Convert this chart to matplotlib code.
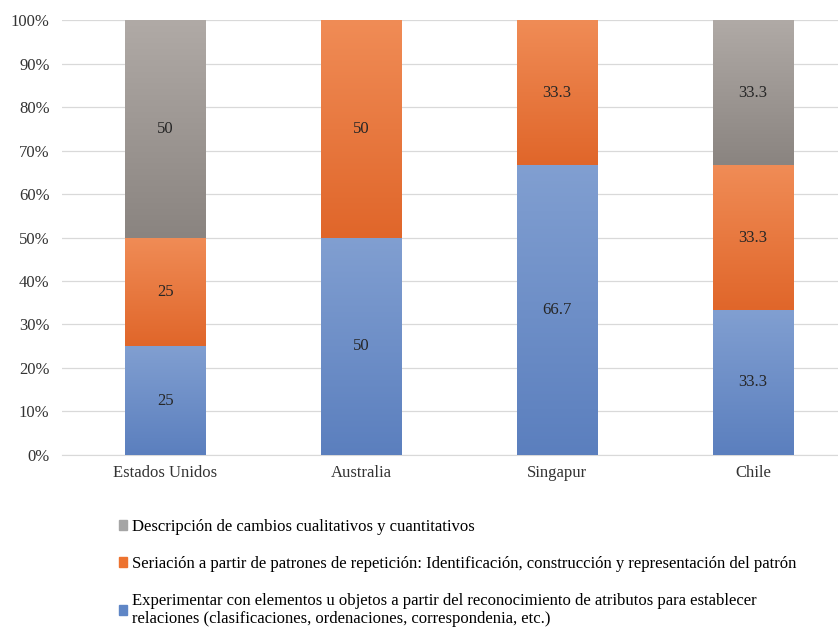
import numpy as np
import matplotlib.pyplot as plt
from matplotlib.colors import LinearSegmentedColormap
from matplotlib.patches import Patch

plt.rcParams['font.family'] = ['Liberation Serif', 'DejaVu Serif']

paises = ['Estados Unidos', 'Australia', 'Singapur', 'Chile']
experimentar = [25, 50, 66.7, 33.3]
seriacion = [25, 50, 33.3, 33.3]
descripcion = [50, 0, 0, 33.3]

etiquetas = [
    'Experimentar con elementos u objetos a partir del reconocimiento de atributos para establecer\n'
    'relaciones (clasificaciones, ordenaciones, correspondenia, etc.)',
    'Seriación a partir de patrones de repetición: Identificación, construcción y representación del patrón',
    'Descripción de cambios cualitativos y cuantitativos',
]

# (color arriba, color abajo) de cada serie
degradados = [('#819fd1', '#5b7fbe'), ('#f08c56', '#e0662a'), ('#b0aaa6', '#8a8480')]
colores_leyenda = ['#5f86c6', '#ed7330', '#a5a5a5']

fig = plt.figure(figsize=(8.38, 6.3), dpi=100)
ax = fig.add_axes([0.074, 0.278, 0.926, 0.690])

x = np.arange(len(paises))
ancho = 0.41
base = np.zeros(len(paises))
grad = np.linspace(1, 0, 256).reshape(-1, 1)

for serie, (c_top, c_bot) in zip([experimentar, seriacion, descripcion], degradados):
    vals = np.array(serie, dtype=float)
    barras = ax.bar(x, vals, ancho, bottom=base, color=c_bot, zorder=2)
    cmap = LinearSegmentedColormap.from_list('g', [c_bot, c_top])
    for b, v in zip(barras, vals):
        if v <= 0:
            continue
        x0, y0 = b.get_x(), b.get_y()
        ax.imshow(grad, extent=[x0, x0 + b.get_width(), y0, y0 + b.get_height()],
                  aspect='auto', cmap=cmap, vmin=0, vmax=1, zorder=3)
        ax.text(b.get_x() + b.get_width() / 2, y0 + v / 2, f'{v:g}',
                ha='center', va='center', fontsize=12, color='#262626', zorder=4)
    base += vals

ax.set_xlim(-0.526, 3.434)
ax.set_ylim(0, 100)
ax.set_yticks(np.arange(0, 101, 10))
ax.set_yticklabels([f'{v}%' for v in range(0, 101, 10)])
ax.set_xticks(x)
ax.set_xticklabels(paises)
ax.tick_params(axis='both', length=0, labelsize=12, colors='#333333')
ax.tick_params(axis='y', pad=9)
ax.tick_params(axis='x', pad=7)
ax.grid(axis='y', color='#d9d9d9', linewidth=0.9, zorder=0)
ax.set_axisbelow(True)
for s in ['top', 'right', 'left']:
    ax.spines[s].set_visible(False)
ax.spines['bottom'].set_color('#d9d9d9')

handles = [Patch(color=c) for c in reversed(colores_leyenda)]
fig.legend(handles, list(reversed(etiquetas)), loc='upper left',
           bbox_to_anchor=(0.134, 0.187), frameon=False, fontsize=12,
           handlelength=0.5, handleheight=0.5, handletextpad=0.3,
           labelspacing=1.25, borderaxespad=0)

fig.savefig('out.png', dpi=100, facecolor='white')
